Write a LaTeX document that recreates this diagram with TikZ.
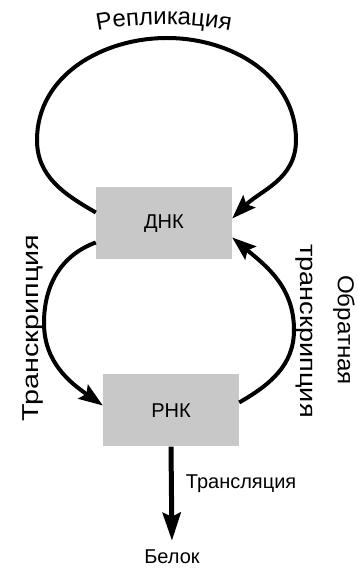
\documentclass[tikz,border=0pt]{standalone}
\usepackage{fontspec}
\setmainfont{Liberation Sans}
\usetikzlibrary{arrows.meta,decorations.text}
\definecolor{boxgray}{RGB}{200,200,200}

\tikzset{%
		every molecule/.style={
			fill=boxgray,
			minimum width=136pt,
			minimum height=72pt,
			font=\fontsize{20}{24}\selectfont
		},
		every flow/.style={
			line width=4pt
		},
		side label/.style={
			font=\fontsize{23}{28}\selectfont
		},
	}

\begin{document}
\begin{tikzpicture}[x=1pt, y=1pt, >={Stealth[length=24pt,width=17pt,inset=4pt]}]
			\useasboundingbox (0,0) rectangle (357,571);
			
			% draw molecule boxes
			\node [every molecule] (dna) at (164,347.5) {ДНК};
			\node [every molecule] (rna) at (171,160.5) {РНК};
			
			% draw product
			\node [anchor=base, font=\fontsize{20}{24}\selectfont] (protein) at (172,8) {Белок};
			
			% turning points of the loops
			\coordinate (rep-left) at (37,431);
			\coordinate (rep-top) at (167,533);
			\coordinate (rep-right) at (296,431);
			\coordinate (tr-left) at (44,248);
			\coordinate (rt-right) at (294,241);
			
			% draw replication loop
			\draw [every flow, ->] ([yshift=11pt]dna.west) to[out=150,in=270] (rep-left)
			to[out=90,in=180] (rep-top) to[out=0,in=90] (rep-right)
			to[out=270,in=45] ([yshift=5pt]dna.east);
			
			% draw transcription arc
			\draw [every flow, ->] ([yshift=-19pt]dna.west) to[out=200,in=90] (tr-left)
			to[out=270,in=145] ([yshift=5pt]rna.west);
			
			% draw reverse transcription arc
			\draw [every flow, ->] ([yshift=8pt]rna.east) to[out=30,in=270] (rt-right)
			to[out=90,in=320] ([yshift=-14pt]dna.east);
			
			% draw translation arrow
			\draw [every flow, line width=5pt, ->, >={Stealth[length=28pt,width=18pt,inset=4pt]}, shorten >=5pt] (rna.south) -- (protein.north)
			node [pos=0.42, anchor=base west, inner sep=0pt, xshift=12pt, font=\fontsize{20}{24}\selectfont] {Трансляция};
			
			% annotate loops
			\path [decorate, decoration={text along path, text align=center,
				text={|\fontsize{24}{28}\selectfont|Репликация}}]
			(90,539) .. controls (134,549) and (194,549) .. (238,539);
			\node [side label, rotate=90] (tr-label) at (33,243) {\scalebox{1.25}[1]{Транскрипция}};
			\node [side label, rotate=-90] (rt-label2) at (304,240) {\scalebox{1.18}[1]{транскрипция}};
			\node [side label, rotate=-90] (rt-label1) at (344,241) {\scalebox{1.05}[1]{Обратная}};
\end{tikzpicture}
\end{document}
